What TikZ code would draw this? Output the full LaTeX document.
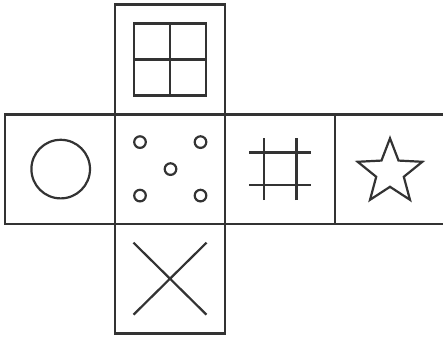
\documentclass[tikz,border=0pt]{standalone}
\usepackage{tikz}
\usetikzlibrary{positioning}

\colorlet{ink}{black!80}

\begin{document}
\begin{tikzpicture}[
  x=1pt, y=1pt,
  cell/.style={rectangle, draw=ink, line width=2.6pt, minimum width=110pt, minimum height=109.6pt, inner sep=0pt, outer sep=0pt},
  glyph/.style={draw=ink, line width=2.2pt}
]
\useasboundingbox (0,0) rectangle (443,339);

% the net of the cube
\node[cell] (mid) at (170,169.9) {};
\node[cell, above=0pt of mid] (top) {};
\node[cell, below=0pt of mid] (bottom) {};
\node[cell, left=0pt of mid] (left) {};
\node[cell, right=0pt of mid] (hash) {};
\node[cell, right=0pt of hash, minimum width=109.2pt] (star) {};

% faces
\draw[glyph, shift={(top.center)}] (-36,-36) rectangle (36,36) (0,-36) -- (0,36) (-36,0) -- (36,0);
\draw[glyph, shift={(left.center)}] (0.7,0) circle[radius=29.3];
\begin{scope}[shift={(mid.center)}]
  \foreach \dx/\dy in {-30/27, 30.5/27, 0.5/0, -30/-26.5, 30.5/-26.5}
    \draw[glyph] (\dx,\dy) circle[radius=5.8];
\end{scope}
\draw[glyph, shift={(hash.center)}] (-16,-31) -- (-16,31) (16.5,-31) -- (16.5,31)
  (-31,16.5) -- (31,16.5) (-31,-16) -- (31,-16);
\draw[glyph, shift={(star.center)}, xshift=0.4pt, yshift=-3.2pt] (90:34)
  \foreach \a in {0,72,144,216} {-- (\a+126:14.5) -- (\a+162:34)} -- (54:14.5) -- cycle;
\draw[glyph, shift={(bottom.center)}] (-36.5,-36) -- (36.5,36) (-36.5,36) -- (36.5,-36);

\end{tikzpicture}
\end{document}
